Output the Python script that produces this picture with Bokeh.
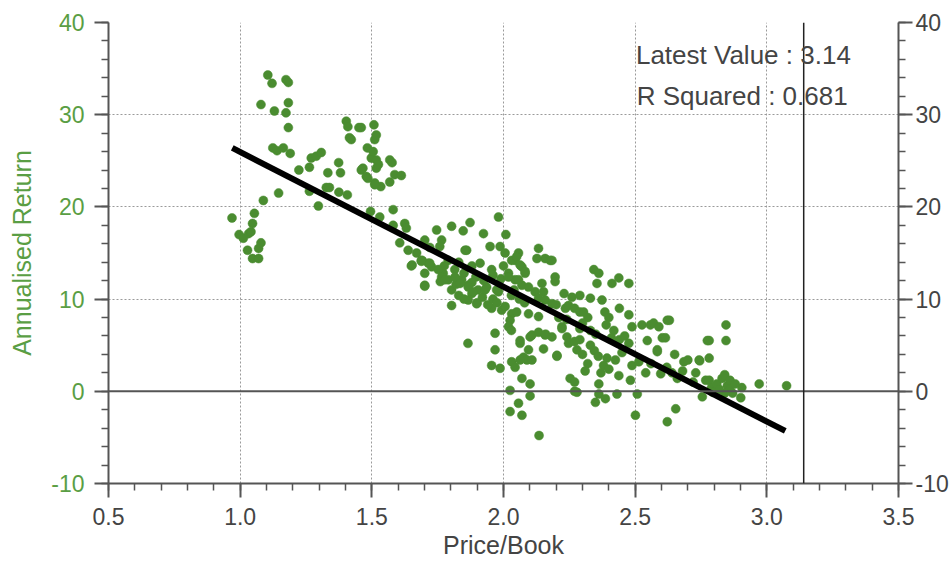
from bokeh.plotting import figure
from bokeh.models import Range1d, LinearAxis, SingleIntervalTicker, Span, NumeralTickFormatter, Label
from bokeh.embed import file_html
from bokeh.resources import INLINE

# Price/Book (x) of each monthly observation
pb = [
    0.969, 0.996, 1.012, 1.028, 1.032, 1.041, 1.047, 1.054, 1.047, 1.070,
    1.070, 1.079, 1.088, 1.146, 1.079, 1.105, 1.121, 1.130, 1.174, 1.183,
    1.183, 1.174, 1.183, 1.124, 1.140, 1.164, 1.190, 1.223, 1.263, 1.270,
    1.289, 1.308, 1.263, 1.297, 1.333, 1.327, 1.339, 1.374, 1.381, 1.375,
    1.407, 1.403, 1.409, 1.451, 1.415, 1.422, 1.460, 1.508, 1.517, 1.511,
    1.483, 1.498, 1.517, 1.517, 1.466, 1.460, 1.479, 1.485, 1.511, 1.534,
    1.511, 1.568, 1.577, 1.587, 1.612, 1.568, 1.505, 1.525, 1.495, 1.530,
    1.581, 1.581, 1.625, 1.631, 1.606, 1.638, 1.653, 1.650, 1.701, 1.701,
    1.691, 1.714, 1.727, 1.746, 1.765, 1.758, 1.688, 1.701, 1.670, 1.720,
    1.701, 1.803, 1.847, 1.873, 1.924, 1.981, 2.009, 1.949, 1.987, 2.006,
    2.057, 1.860, 1.854, 1.911, 1.955, 1.771, 1.790, 1.803, 1.841, 1.866,
    1.904, 1.936, 1.981, 2.019, 2.044, 2.070, 2.082, 2.044, 2.070, 2.095,
    1.790, 1.830, 1.880, 1.895, 1.925, 1.960, 1.990, 2.000, 1.815, 1.850,
    1.775, 1.803, 1.866, 1.955, 1.993, 1.830, 1.850, 1.880, 1.900, 1.920,
    1.940, 1.960, 1.975, 2.006, 2.031, 2.050, 2.025, 2.019, 2.030, 1.968,
    1.865, 1.968, 1.955, 1.987, 1.760, 1.820, 1.880, 2.030, 2.060, 2.080,
    2.040, 2.031, 2.050, 2.063, 2.082, 2.019, 2.057, 1.898, 1.930, 1.974,
    1.816, 1.835, 1.866, 1.885, 1.752, 1.765, 1.777, 1.688, 1.720, 2.133,
    2.158, 2.177, 2.127, 2.184, 2.196, 2.196, 2.146, 2.152, 2.120, 2.133,
    2.158, 2.184, 2.235, 2.133, 2.095, 2.200, 2.101, 2.063, 2.031, 2.063,
    2.095, 2.076, 2.089, 2.108, 2.044, 2.063, 2.070, 2.101, 2.025, 2.101,
    2.057, 2.025, 2.070, 2.135, 2.108, 2.133, 2.158, 2.184, 2.152, 2.203,
    2.222, 2.241, 2.247, 2.253, 2.343, 2.362, 2.355, 2.412, 2.438, 2.476,
    2.330, 2.374, 2.247, 2.270, 2.290, 2.304, 2.320, 2.385, 2.400, 2.390,
    2.476, 2.488, 2.279, 2.290, 2.300, 2.330, 2.345, 2.360, 2.203, 2.393,
    2.380, 2.400, 2.370, 2.362, 2.362, 2.438, 2.482, 2.488, 2.514, 2.279,
    2.270, 2.270, 2.349, 2.387, 2.431, 2.508, 2.501, 2.419, 2.410, 2.440,
    2.460, 2.476, 2.230, 2.260, 2.240, 2.210, 2.290, 2.330, 2.350, 2.440,
    2.425, 2.450, 2.526, 2.558, 2.570, 2.622, 2.630, 2.590, 2.546, 2.603,
    2.615, 2.584, 2.584, 2.597, 2.622, 2.654, 2.685, 2.700, 2.743, 2.768,
    2.755, 2.774, 2.781, 2.781, 2.845, 2.845, 2.745, 2.730, 2.781, 2.790,
    2.810, 2.830, 2.840, 2.850, 2.860, 2.870, 2.840, 2.820, 2.901, 2.905,
    2.971, 3.075, 2.560, 2.540, 2.620, 2.640, 2.660, 2.680, 2.720, 2.860,
    2.880, 2.795, 2.650, 2.222, 2.160, 2.290, 2.300, 2.270, 2.320, 2.310,
]

# Annualised return (y) of each observation, same order as pb
ret = [
    18.8, 17.0, 16.6, 15.3, 17.1, 17.3, 18.2, 19.3, 14.4, 14.4,
    15.5, 16.1, 20.7, 21.5, 31.1, 34.3, 33.4, 30.4, 33.8, 33.5,
    31.3, 30.2, 28.6, 26.4, 26.1, 26.4, 25.8, 24.0, 24.3, 25.3,
    25.5, 25.9, 21.7, 20.1, 23.7, 22.1, 22.1, 24.8, 23.7, 21.6,
    21.3, 29.3, 28.7, 28.6, 27.5, 27.3, 28.6, 28.9, 27.8, 27.3,
    26.4, 25.3, 25.1, 24.2, 24.2, 24.0, 23.3, 23.1, 22.6, 22.2,
    22.4, 25.1, 24.8, 23.5, 23.4, 22.7, 26.0, 24.6, 19.5, 18.9,
    19.7, 18.0, 18.2, 17.7, 16.1, 15.3, 13.7, 13.6, 16.4, 11.5,
    14.2, 13.9, 13.5, 17.5, 16.4, 15.7, 14.2, 12.8, 15.0, 15.6,
    11.4, 17.9, 17.4, 18.3, 17.1, 18.9, 17.0, 15.7, 15.7, 15.0,
    15.0, 15.3, 15.3, 13.9, 13.2, 12.8, 12.1, 11.0, 12.1, 11.5,
    11.0, 11.3, 10.8, 12.8, 14.2, 13.5, 12.8, 12.1, 11.5, 11.3,
    14.2, 14.0, 13.6, 12.4, 12.0, 12.6, 12.2, 13.6, 13.2, 12.8,
    13.6, 9.3, 9.9, 9.0, 8.8, 10.4, 10.0, 10.6, 9.6, 10.2,
    9.4, 10.0, 9.6, 9.2, 8.4, 8.6, 7.7, 7.0, 6.6, 6.3,
    5.2, 4.5, 2.8, 2.5, 11.9, 11.6, 11.8, 10.4, 10.0, 9.6,
    11.0, 14.2, 14.6, 13.7, 13.0, 12.4, 12.1, 9.5, 11.0, 11.0,
    12.4, 11.7, 11.3, 10.8, 13.2, 12.4, 12.1, 14.1, 13.9, 15.5,
    14.4, 14.2, 14.4, 14.2, 12.4, 11.9, 11.7, 10.8, 10.8, 10.1,
    9.9, 9.5, 9.0, 8.1, 8.4, 9.4, 5.9, 5.2, 3.2, 5.5,
    4.5, 3.7, 3.4, 3.4, 2.6, 3.4, 1.4, 0.8, 0.1, -0.5,
    -1.3, -2.2, -2.6, -4.8, 6.1, 6.4, 6.1, 5.9, 4.6, 3.8,
    6.8, 5.9, 5.2, 1.4, 13.2, 12.8, 11.7, 11.7, 12.3, 11.7,
    10.1, 9.9, 9.3, 9.0, 8.6, 8.6, 8.0, 8.6, 8.0, 7.2,
    8.3, 7.0, 4.5, 5.6, 4.0, 5.0, 4.4, 3.8, 3.9, 3.6,
    2.8, 2.4, 2.0, 0.8, -0.3, 1.7, 1.2, 2.8, 3.2, -0.1,
    1.0, 0.0, -1.2, -0.8, -0.3, -0.3, -2.6, 6.6, 5.8, 5.6,
    6.0, 5.2, 10.6, 10.2, 7.8, 8.0, 6.8, 6.6, 6.2, 9.0,
    3.4, 4.2, 7.2, 7.2, 7.4, 7.7, 7.7, 7.0, 5.5, 5.8,
    5.8, 4.3, 4.5, 1.9, -3.3, -1.9, 3.2, 3.4, 3.4, 1.2,
    -0.6, 5.5, 5.5, 3.6, 7.2, 5.5, 3.3, 2.0, 1.2, 0.4,
    0.8, 1.4, 1.8, 0.6, 0.2, -0.2, -0.2, 0.2, -0.7, 0.4,
    0.8, 0.6, 3.0, 2.0, 2.6, 2.0, 1.4, 2.2, 1.0, 1.2,
    0.8, -0.1, 4.0, 7.0, 6.2, 10.4, 7.4, 5.4, 3.0, 2.2,
]

# Regression line end points
fit_pb = [0.97, 3.07]
fit_ret = [26.4, -4.3]

latest_value = 3.14
r_squared = 0.681

x_limits = (0.5, 3.5)
y_limits = (-10, 40)

FONT = "Liberation Sans"
GREEN_TXT = "#5a9e44"
GREEN_PT = "#4a8c30"
AXIS_COL = "#555555"
TXT_COL = "#444444"

p = figure(width=952, height=564, output_backend="svg", toolbar_location=None,
           x_range=Range1d(*x_limits), y_range=Range1d(*y_limits),
           min_border_left=108, min_border_right=54, min_border_top=22,
           min_border_bottom=81, background_fill_color="white")
p.outline_line_color = None

# grids
for g in (p.xgrid, p.ygrid):
    g.grid_line_color = "#9a9a9a"
    g.grid_line_dash = "2 2"
    g.grid_line_width = 1

xticker = SingleIntervalTicker(interval=0.5, num_minor_ticks=5)
yticker = SingleIntervalTicker(interval=10, num_minor_ticks=5)
p.xaxis.ticker = xticker
p.yaxis.ticker = yticker
p.xgrid.ticker = xticker
p.ygrid.ticker = yticker


def style_axis(ax, label_color, tick_size="23px"):
    ax.axis_line_color = AXIS_COL
    ax.axis_line_width = 2
    ax.major_tick_line_color = AXIS_COL
    ax.major_tick_line_width = 2
    ax.minor_tick_line_color = AXIS_COL
    ax.minor_tick_line_width = 1.5
    ax.major_tick_in = 0
    ax.minor_tick_in = 0
    ax.major_tick_out = 14
    ax.minor_tick_out = 7
    ax.major_label_text_font = FONT
    ax.major_label_text_font_size = tick_size
    ax.major_label_text_color = label_color
    ax.axis_label_text_font = FONT
    ax.axis_label_text_font_size = "25px"
    ax.axis_label_text_font_style = "normal"


xa = p.xaxis[0]
style_axis(xa, TXT_COL, "23px")
xa.formatter = NumeralTickFormatter(format="0.0")
xa.axis_label = "Price/Book"
xa.axis_label_text_color = TXT_COL
xa.major_label_standoff = 10
xa.axis_label_standoff = 3

ya = p.yaxis[0]
style_axis(ya, GREEN_TXT)
ya.formatter = NumeralTickFormatter(format="0")
ya.axis_label = "Annualised Return"
ya.axis_label_text_color = GREEN_TXT
ya.major_label_standoff = 10
ya.axis_label_standoff = 12

ra = LinearAxis(ticker=yticker, formatter=NumeralTickFormatter(format="0"))
style_axis(ra, TXT_COL, "23px")
ra.major_tick_out = 14
ra.major_label_standoff = 3
p.add_layout(ra, "right")

# reference lines
p.add_layout(Span(location=0, dimension="width", line_color=AXIS_COL, line_width=2))
p.add_layout(Span(location=latest_value, dimension="height", line_color="#222222", line_width=1.5))

# scatter and fit
p.scatter(pb, ret, size=9, fill_color=GREEN_PT, line_color=GREEN_PT, line_width=0.5)
p.line(fit_pb, fit_ret, line_color="black", line_width=6)

p.add_layout(Label(x=3.319, y=36.5, text=f"Latest Value : {latest_value}",
                   text_font=FONT, text_font_size="26px", text_color=TXT_COL,
                   text_align="right", text_baseline="middle"))
p.add_layout(Label(x=3.307, y=32.0, text=f"R Squared : {r_squared}",
                   text_font=FONT, text_font_size="26px", text_color=TXT_COL,
                   text_align="right", text_baseline="middle"))

open("out.html", "w").write(file_html(p, INLINE))
